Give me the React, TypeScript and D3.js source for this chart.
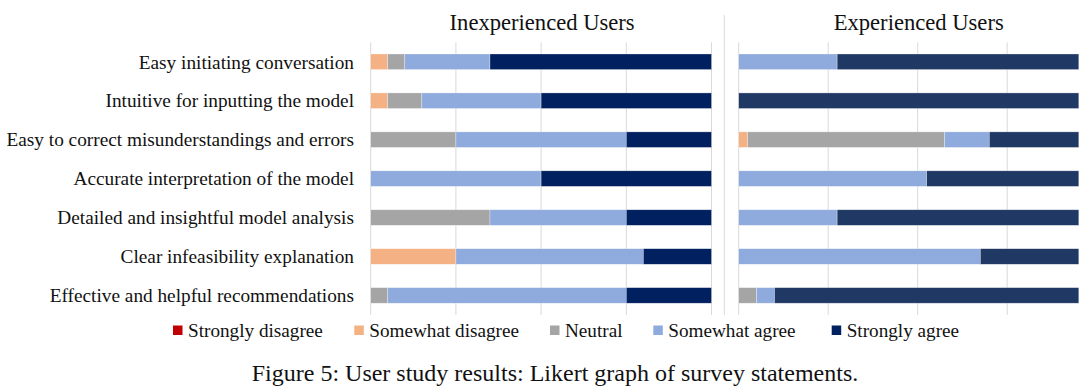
import React from 'react';
import * as d3 from 'd3';

const statements = [
  'Easy initiating conversation',
  'Intuitive for inputting the model',
  'Easy to correct misunderstandings and errors',
  'Accurate interpretation of the model',
  'Detailed and insightful model analysis',
  'Clear infeasibility explanation',
  'Effective and helpful recommendations',
];

const levels = ['Strongly disagree', 'Somewhat disagree', 'Neutral', 'Somewhat agree', 'Strongly agree'];

// inexperienced users (% of answers)
const inexpStronglyDisagree = [0, 0, 0, 0, 0, 0, 0];
const inexpSomewhatDisagree = [5, 5, 0, 0, 0, 25, 0];
const inexpNeutral = [5, 10, 25, 0, 35, 0, 5];
const inexpSomewhatAgree = [25, 35, 50, 50, 40, 55, 70];
const inexpStronglyAgree = [65, 50, 25, 50, 25, 20, 25];

// experienced users
const expStronglyDisagree = [0, 0, 0, 0, 0, 0, 0];
const expSomewhatDisagree = [0, 0, 2.5, 0, 0, 0, 0];
const expNeutral = [0, 0, 55, 0, 0, 0, 5];
const expSomewhatAgree = [27.5, 0, 12.5, 52.5, 27.5, 67.5, 5];
const expStronglyAgree = [67.5, 95, 25, 42.5, 67.5, 27.5, 85];

const gridTicks = [0, 25, 50, 75, 100];

const colors = ['#C00000', '#F4B183', '#A5A5A5', '#8FAADC', '#002060'];
const expColors = ['#C00000', '#F4B183', '#A5A5A5', '#8FAADC', '#203864'];

const W = 1087;
const H = 388;
const font = '"Liberation Serif", "Times New Roman", serif';

function buildRows(cols: number[][]) {
  return statements.map((s, i) => {
    const row: any = { statement: s };
    levels.forEach((l, j) => (row[l] = cols[j][i]));
    return row;
  });
}

const inexpRows = buildRows([inexpStronglyDisagree, inexpSomewhatDisagree, inexpNeutral, inexpSomewhatAgree, inexpStronglyAgree]);
const expRows = buildRows([expStronglyDisagree, expSomewhatDisagree, expNeutral, expSomewhatAgree, expStronglyAgree]);

const y = d3.scaleBand<string>().domain(statements).range([42.3, 314.9]).paddingInner(0.6).paddingOuter(0.3);

function Panel({ rows, x, title, palette }: any) {
  const series = d3.stack<any>().keys(levels)(rows);
  const [r0, r1] = x.range();
  return (
    <g>
      <text x={(r0 + r1) / 2 + 1} y={30} textAnchor="middle" fontFamily={font} fontSize={22.6} fill="#111">
        {title}
      </text>
      {gridTicks.map((t) => (
        <line key={t} x1={x(t)} x2={x(t)} y1={y.range()[0]} y2={y.range()[1]} stroke="#D9D9D9" strokeWidth={1} />
      ))}
      {series.map((s, k) => (
        <g key={s.key} fill={palette[k]}>
          {s.map((d: any) =>
            d[1] - d[0] > 0 ? (
              <rect
                key={d.data.statement}
                x={x(d[0])}
                y={y(d.data.statement)}
                width={x(d[1]) - x(d[0])}
                height={y.bandwidth()}
                stroke="#fff"
                strokeOpacity={0.5}
                strokeWidth={0.6}
              />
            ) : null
          )}
        </g>
      ))}
    </g>
  );
}

export default function App() {
  const xLeft = d3.scaleLinear().domain([0, 100]).range([370.7, 711.5]);
  const xRight = d3.scaleLinear().domain([0, 100]).range([738.7, 1096.7]);

  const legendX = [173, 354.3, 550, 653.3, 831.7];

  return (
    <svg width={W} height={H} style={{ position: 'absolute', left: 0, top: 0, background: '#fff' }}>
      {statements.map((s) => (
        <text
          key={s}
          x={354}
          y={(y(s) as number) + y.bandwidth() / 2}
          dy="0.35em"
          textAnchor="end"
          fontFamily={font}
          fontSize={19.3}
          fill="#111"
        >
          {s}
        </text>
      ))}
      <line x1={724.3} x2={724.3} y1={15} y2={315} stroke="#D9D9D9" strokeWidth={1} />
      <Panel rows={inexpRows} x={xLeft} title="Inexperienced Users" palette={colors} />
      <Panel rows={expRows} x={xRight} title="Experienced Users" palette={expColors} />
      {levels.map((l, i) => (
        <g key={l} transform={`translate(${legendX[i]},325.5)`}>
          <rect width={9.5} height={9.5} fill={colors[i]} />
          <text x={15} y={4.75} dy="0.35em" fontFamily={font} fontSize={19.2} fill="#111">
            {l}
          </text>
        </g>
      ))}
      <text x={555} y={381} textAnchor="middle" fontFamily={font} fontSize={24} fill="#111">
        Figure 5: User study results: Likert graph of survey statements.
      </text>
    </svg>
  );
}
